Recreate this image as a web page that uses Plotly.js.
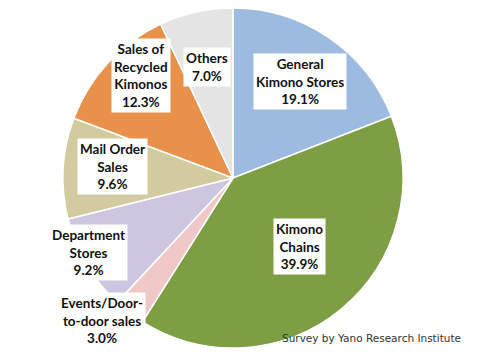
<!DOCTYPE html>
<html><head><meta charset="utf-8">
<script src="https://cdn.plot.ly/plotly-3.0.1.min.js"></script>
<style>html,body{margin:0;padding:0;background:#fff;}#chart{width:480px;height:354px;}</style>
</head><body><div id="chart"></div>
<script>
const categories = ["General Kimono Stores","Kimono Chains","Events/Door-to-door sales","Department Stores","Mail Order Sales","Sales of Recycled Kimonos","Others"];
const labelTexts = ["General<br>Kimono Stores<br>19.1%","Kimono<br>Chains<br>39.9%","Events/Door-<br>to-door sales<br>3.0%","Department<br>Stores<br>9.2%","Mail Order<br>Sales<br>9.6%","Sales of<br>Recycled<br>Kimonos<br>12.3%","Others<br>7.0%"];
const shares = [19.1, 39.9, 3.0, 9.2, 9.6, 12.3, 7.0];
const colors = ["#9dbbe0","#7e9e44","#f0c8c8","#cdc6e0","#d2cba0","#e8914a","#e4e4e4"];
// label box centres (paper fraction)
const labelX = [300/480, 299/480, 102/480, 88/480, 112/480, 141/480, 207/480];
const labelY = [1-82/354, 1-247/354, 1-320/354, 1-252/354, 1-166/354, 1-75/354, 1-67/354];

const trace = {
  type: "pie",
  labels: categories,
  values: shares,
  sort: false,
  direction: "clockwise",
  rotation: 0,
  textinfo: "none",
  hoverinfo: "label+percent",
  marker: {colors: colors, line: {color: "#ffffff", width: 1.5}},
  domain: {x: [63/480, 403/480], y: [6/354, 346/354]},
  showlegend: false
};

const annotations = labelTexts.map((t, i) => ({
  text: "<b>" + t + "</b>",
  x: labelX[i], y: labelY[i], xref: "paper", yref: "paper",
  xanchor: "center", yanchor: "middle", showarrow: false,
  bgcolor: "#ffffff", borderpad: 2,
  font: {family: "Lato, 'DejaVu Sans', sans-serif", size: 13.5, color: "#111111"}
}));
annotations.push({
  text: "Survey by Yano Research Institute",
  x: 463/480, y: 1-338/354, xref: "paper", yref: "paper",
  xanchor: "right", yanchor: "middle", showarrow: false,
  font: {family: "'DejaVu Sans', sans-serif", size: 10.5, color: "#333333"}
});

Plotly.newPlot("chart", [trace], {
  width: 480, height: 354,
  margin: {l: 0, r: 0, t: 0, b: 0},
  paper_bgcolor: "#ffffff",
  annotations: annotations
}, {displayModeBar: false, staticPlot: true});
</script></body></html>
